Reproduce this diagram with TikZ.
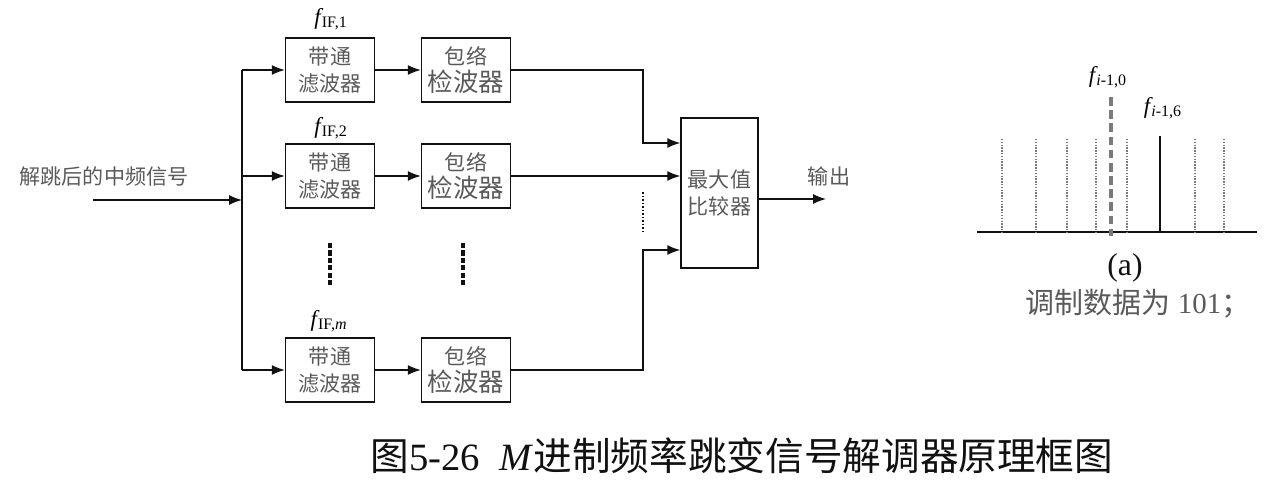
\documentclass[tikz,border=0pt]{standalone}
\usepackage{fontspec}
\setmainfont{Liberation Serif}
\newfontfamily\cjk{Noto Sans CJK SC}
\usetikzlibrary{arrows.meta,positioning}
\definecolor{ink}{HTML}{111111}
\definecolor{txtgray}{HTML}{5A5A5A}
\definecolor{linegray}{HTML}{7A7A7A}
\tikzset{
  blk/.style={draw=ink,line width=0.8pt,minimum width=1.78cm,minimum height=1.28cm,
              align=center,inner sep=1pt,text=txtgray,font=\cjk\fontsize{12}{15}\selectfont},
  arr/.style={-{Latex[length=2.6mm,width=2mm]},line width=0.8pt,draw=ink},
  wire/.style={line width=0.8pt,draw=ink},
  lbl/.style={text=txtgray,font=\cjk\fontsize{12}{14}\selectfont,inner sep=0pt},
  flbl/.style={font=\fontsize{13}{15}\selectfont,inner sep=0pt},
  vdots/.style={line width=2pt,dash pattern=on 3pt off 1.2pt,draw=ink},
  tone/.style={line width=0.7pt,draw=linegray,dash pattern=on 0.8pt off 0.8pt}
}
\newcommand{\fsub}[1]{\textit{f}\kern-0.8pt\textsubscript{#1}}

\begin{document}
\begin{tikzpicture}[x=0.02cm,y=-0.02cm]
    \path[use as bounding box] (0,0) rectangle (1279,483);

    % filter bank
    \node[blk] (bpf1) at (330,70) {带通\\滤波器};
    \node[blk] (bpf2) at (330,176) {带通\\滤波器};
    \node[blk] (bpfm) at (330,370) {带通\\滤波器};
    \node[blk] (env1) at (466,70) {包络\\{\fontsize{14.5}{17}\selectfont 检波器}};
    \node[blk] (env2) at (466,176) {包络\\{\fontsize{14.5}{17}\selectfont 检波器}};
    \node[blk] (envm) at (466,370) {包络\\{\fontsize{14.5}{17}\selectfont 检波器}};
    \node[flbl] (f1) at (331,19) {\fsub{IF,1}};
    \node[flbl] (f2) at (331,128) {\fsub{IF,2}};
    \node[flbl] (fm) at (329,321) {\fsub{IF,\textit{m}}};

    \node[blk,minimum width=1.54cm,minimum height=3cm] (cmp) at (719.5,193)
      {最大值\\比较器};

    % input bus
    \coordinate (src) at (93,200);
    \coordinate (bus1) at (242,70);
    \coordinate (busm) at (242,370);
    \node[lbl] (inlbl) at (104,176) {解跳后的中频信号};
    \draw[wire] (bus1) -- (busm);
    \draw[arr] (src) -- (src -| bus1);
    \draw[arr] (bus1) -- (bpf1);
    \draw[arr] (bus1 |- bpf2) -- (bpf2);
    \draw[arr] (busm) -- (bpfm);
    \draw[arr] (bpf1) -- (env1);
    \draw[arr] (bpf2) -- (env2);
    \draw[arr] (bpfm) -- (envm);

    % to comparator
    \coordinate (j1) at (643,143);
    \coordinate (jm) at (643,250);
    \draw[arr] (env1.east) -| (j1) -- (j1 -| cmp.west);
    \draw[arr] (env2.east) -- (env2 -| cmp.west);
    \draw[arr] (envm.east) -| (jm) -- (jm -| cmp.west);
    \draw[ink,line width=0.7pt,dash pattern=on 1pt off 1pt] (643,192) -- (643,233);
    \draw[vdots] (330,243) -- (330,286);
    \draw[vdots] (463,243) -- (463,287);

    \coordinate (out) at (826,199);
    \draw[arr] (out -| cmp.east) -- (out);
    \node[lbl] (outlbl) at (829,176) {输出};

    % spectrum (a)
    \coordinate (ax0) at (977,232);
    \coordinate (ax1) at (1257,232);
    \draw[ink,line width=0.9pt] (ax0) -- (ax1);
    \foreach \xx in {1002,1036,1067,1096,1127,1195,1224}
      \draw[tone] (\xx,139) -- (\xx,232);
    \draw[ink,line width=1pt] (1160,136) -- (1160,232);
    \draw[linegray,line width=2pt,dash pattern=on 5pt off 2.5pt] (1111,97) -- (1111,236);
    \node[flbl] (fi0) at (1108,77) {\fsub{\textit{i}-1,0}};
    \node[flbl] (fi6) at (1163,108) {\fsub{\textit{i}-1,6}};
    \node[font=\fontsize{18}{20}\selectfont,text=ink,inner sep=0pt] (tag) at (1125,268) {(a)};
    \node[text=txtgray,inner sep=0pt,font=\fontsize{16.5}{19}\selectfont] (note) at (1138,304)
      {{\cjk 调制数据为} 101{\cjk ；}};

    % caption
    \node[inner sep=0pt,font=\fontsize{22}{25}\selectfont,text=ink] (cap) at (742,456)
      {{\cjk 图}5-26\ \ \textit{M}{\cjk 进制频率跳变信号解调器原理框图}};
  \end{tikzpicture}
\end{document}
